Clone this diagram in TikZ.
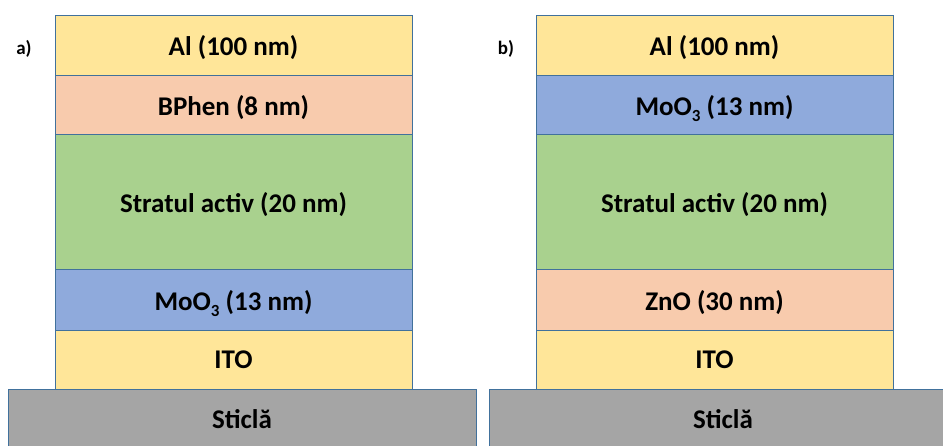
\documentclass[tikz,border=0pt]{standalone}
\usepackage{fontspec}
\setmainfont{Carlito}
\definecolor{edge}{HTML}{41719C}
\definecolor{metal}{HTML}{FFE699}
\definecolor{peach}{HTML}{F8CBAD}
\definecolor{active}{HTML}{A9D18E}
\definecolor{moo}{HTML}{8FAADC}
\definecolor{glass}{HTML}{A5A5A5}
\newcommand{\chemsub}[1]{\raisebox{-6pt}{\fontsize{17}{20}\selectfont #1}}
\tikzset{
  layerfont/.style={font=\fontsize{27}{31}\selectfont\bfseries, text=black,
    text height=17.4pt, text depth=0pt},
  layer/.style={draw=edge, line width=1pt, minimum width=357pt, inner sep=0pt, layerfont},
  substrate/.style={draw=edge, line width=1pt, fill=glass, minimum width=468pt,
    minimum height=58pt, inner sep=0pt, layerfont},
  tag/.style={font=\fontsize{19}{22}\selectfont\bfseries, inner sep=0pt,
    text height=12pt, text depth=0pt}
}
\begin{document}
\begin{tikzpicture}[x=1pt, y=-1pt]
  \clip (0,0) rectangle (943,445);
  \fill[white] (0,0) rectangle (943,445);

  % glass substrates
  \node[substrate] (ga) at (242,418) {};
  \node[substrate] (gb) at (723,418) {};
  \node[layerfont] (ga-t) at (242,419.5) {Sticlă};
  \node[layerfont] (gb-t) at (723,419.5) {Sticlă};

  % stack a)
  \node[layer, fill=metal,  minimum height=60pt]  (a1) at (233.5,45)    {};
  \node[layer, fill=peach,  minimum height=59pt]  (a2) at (233.5,104.5) {};
  \node[layer, fill=active, minimum height=135pt] (a3) at (233.5,201.5) {};
  \node[layer, fill=moo,    minimum height=61pt]  (a4) at (233.5,299.5) {};
  \node[layer, fill=metal,  minimum height=59pt]  (a5) at (233.5,359.5) {};
  \node[layerfont] at ([yshift=-2pt]a1.center) {Al (100 nm)};
  \node[layerfont] at ([yshift=-2pt]a2.center) {BPhen (8 nm)};
  \node[layerfont] at ([yshift=-2.5pt]a3.center) {Stratul activ (20 nm)};
  \node[layerfont] at ([yshift=-2.5pt]a4.center) {MoO\chemsub{3} (13 nm)};
  \node[layerfont] at ([yshift=-0.5pt]a5.center) {ITO};

  % stack b)
  \node[layer, fill=metal,  minimum height=60pt]  (b1) at (714.5,45)    {};
  \node[layer, fill=moo,    minimum height=59pt]  (b2) at (714.5,104.5) {};
  \node[layer, fill=active, minimum height=135pt] (b3) at (714.5,201.5) {};
  \node[layer, fill=peach,  minimum height=61pt]  (b4) at (714.5,299.5) {};
  \node[layer, fill=metal,  minimum height=59pt]  (b5) at (714.5,359.5) {};
  \node[layerfont] at ([yshift=-2pt]b1.center) {Al (100 nm)};
  \node[layerfont] at ([yshift=-2pt]b2.center) {MoO\chemsub{3} (13 nm)};
  \node[layerfont] at ([yshift=-2.5pt]b3.center) {Stratul activ (20 nm)};
  \node[layerfont] at ([yshift=-2.5pt]b4.center) {ZnO (30 nm)};
  \node[layerfont] at ([yshift=-0.5pt]b5.center) {ITO};

  % panel tags
  \node[tag] (ta) at (24,48) {a)};
  \node[tag] (tb) at (506,48) {b)};
\end{tikzpicture}
\end{document}
